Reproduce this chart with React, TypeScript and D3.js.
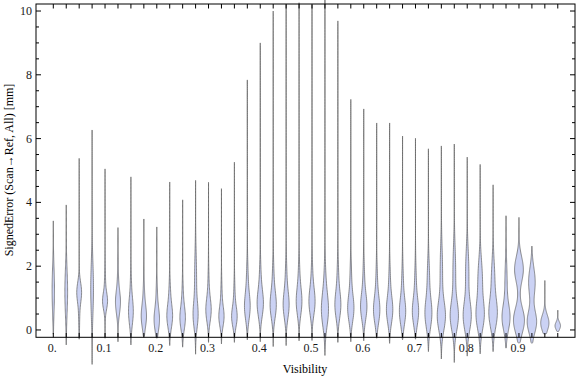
import React from 'react';
import * as d3 from 'd3';

// visibility bins (one violin each)
const visibility = [
  0, 0.025, 0.05, 0.075, 0.1, 0.125, 0.15, 0.175, 0.2, 0.225,
  0.25, 0.275, 0.3, 0.325, 0.35, 0.375, 0.4, 0.425, 0.45, 0.475,
  0.5, 0.525, 0.55, 0.575, 0.6, 0.625, 0.65, 0.675, 0.7, 0.725,
  0.75, 0.775, 0.8, 0.825, 0.85, 0.875, 0.9, 0.925, 0.95, 0.975,
];
// min / max of signed error per bin [mm]
const errMin = [
  -0.13, -0.47, -0.29, -1.08, -0.26, -0.37, -0.47, -0.21, -0.26, -0.49,
  -0.54, -0.76, -0.39, -0.44, -0.39, -0.31, -0.37, -0.52, -0.49, -0.34,
  -0.33, -0.8, -0.39, -0.37, -0.34, -0.26, -0.42, -0.31, -0.29, -0.68,
  -0.91, -1.02, -0.82, -0.75, -0.68, -0.57, -0.42, -0.42, -0.13, -0.05,
];
const errMax = [
  3.42, 3.92, 5.38, 6.27, 5.05, 3.21, 4.8, 3.48, 3.23, 4.64,
  4.08, 4.69, 4.63, 4.43, 5.26, 7.84, 9.0, 10.0, 10.2, 10.26,
  10.19, 11.0, 9.69, 7.23, 6.93, 6.49, 6.49, 6.08, 6.01, 5.68,
  5.77, 5.83, 5.42, 5.19, 4.55, 3.58, 3.53, 2.63, 1.55, 0.62,
];
// main density peak: location, spread, relative height
const peakA = [
  1.25, 1.2, 1.2, 1.3, 0.9, 0.85, 0.55, 0.4, 0.3, 0.4,
  0.35, 0.45, 0.6, 0.4, 0.4, 0.7, 0.8, 0.75, 0.75, 0.85,
  0.85, 0.6, 0.75, 0.65, 0.7, 0.6, 0.6, 0.55, 0.55, 0.5,
  0.42, 0.42, 0.42, 0.45, 0.5, 0.38, 0.3, 0.25, 0.22, 0.13,
];
const spreadA = [
  0.7, 0.7, 0.3, 0.8, 0.25, 0.35, 0.4, 0.35, 0.35, 0.35,
  0.35, 0.4, 0.35, 0.3, 0.3, 0.4, 0.4, 0.4, 0.4, 0.4,
  0.4, 0.5, 0.4, 0.4, 0.4, 0.4, 0.4, 0.4, 0.4, 0.45,
  0.45, 0.45, 0.45, 0.45, 0.45, 0.4, 0.4, 0.35, 0.25, 0.12,
];
const heightA = [
  0.22, 0.25, 0.38, 0.25, 0.38, 0.38, 0.38, 0.42, 0.45, 0.45,
  0.45, 0.4, 0.42, 0.42, 0.45, 0.46, 0.5, 0.5, 0.48, 0.44,
  0.48, 0.6, 0.48, 0.52, 0.52, 0.52, 0.52, 0.52, 0.52, 0.6,
  0.7, 0.7, 0.7, 0.7, 0.72, 0.7, 1.0, 0.85, 0.75, 0.5,
];
// secondary (upper) density component
const peakB = [
  0, 0, 0.6, 0, 1.3, 1.3, 1.2, 1.0, 1.0, 1.0,
  1.0, 1.6, 1.2, 1.0, 1.0, 1.5, 1.5, 1.5, 1.5, 1.5,
  1.5, 1.5, 1.5, 1.5, 1.5, 1.4, 1.4, 1.4, 1.4, 1.6,
  1.8, 1.8, 1.8, 1.6, 1.6, 1.5, 1.9, 1.5, 0, 0,
];
const spreadB = [
  1, 1, 0.6, 1, 0.6, 0.6, 0.6, 0.5, 0.5, 0.5,
  0.5, 0.8, 0.6, 0.5, 0.5, 0.6, 0.6, 0.6, 0.6, 0.6,
  0.6, 0.6, 0.6, 0.6, 0.6, 0.6, 0.6, 0.6, 0.6, 0.6,
  0.8, 0.8, 0.7, 0.6, 0.6, 0.6, 0.4, 0.45, 1, 1,
];
const heightB = [
  0, 0, 0.1, 0, 0.1, 0.1, 0.1, 0.12, 0.12, 0.15,
  0.12, 0.18, 0.12, 0.12, 0.12, 0.15, 0.15, 0.15, 0.15, 0.15,
  0.15, 0.15, 0.15, 0.15, 0.15, 0.15, 0.15, 0.15, 0.15, 0.2,
  0.22, 0.25, 0.3, 0.4, 0.3, 0.2, 0.8, 0.6, 0, 0,
];

const xTicks = [0, 0.1, 0.2, 0.3, 0.4, 0.5, 0.6, 0.7, 0.8, 0.9];
const xTickLabels = ['0.', '0.1', '0.2', '0.3', '0.4', '0.5', '0.6', '0.7', '0.8', '0.9'];
const yTicks = [0, 2, 4, 6, 8, 10];

const W = 576;
const H = 377;
const FONT = '"Liberation Serif", "Times New Roman", serif';

export default function App() {
  const x = d3.scaleLinear().domain([-0.03344, 1.0083]).range([36, 575]);
  const y = d3.scaleLinear().domain([-0.23, 10.22]).range([337.3, 4]);
  const halfMax = 5.5;

  const violins = visibility.map((v, i) => {
    const lo = errMin[i];
    const hi = errMax[i];
    const pts = d3.range(0, 121).map((k) => {
      const e = lo + ((hi - lo) * k) / 120;
      let w = 0;
      if (k > 0 && k < 120) {
        const za = (e - peakA[i]) / spreadA[i];
        const zb = (e - peakB[i]) / spreadB[i];
        w = heightA[i] * Math.exp(-0.5 * za * za) + heightB[i] * Math.exp(-0.5 * zb * zb);
      }
      return { e, w: w * halfMax };
    });
    const cx = x(v);
    const area = d3
      .area<{ e: number; w: number }>()
      .y((d) => y(d.e))
      .x0((d) => cx - d.w)
      .x1((d) => cx + d.w)
      .curve(d3.curveBasis);
    return { cx, path: area(pts) || '' };
  });

  const minorY = d3.range(0, 10.01, 0.5);

  return (
    <div style={{ position: 'fixed', left: 0, top: 0 }}>
      <svg width={W} height={H} style={{ display: 'block', background: '#fff' }}>
        {/* violins */}
        {violins.map((d, i) => (
          <path
            key={i}
            d={d.path}
            fill="#cbd2f4"
            stroke="#5a5a5a"
            strokeWidth={0.85}
            strokeOpacity={0.8}
          />
        ))}

        {/* frame */}
        <rect x={36} y={4} width={539} height={333.3} fill="none" stroke="#000" strokeWidth={1} />

        {/* x ticks (top and bottom, inward) */}
        {visibility.map((v, i) => (
          <g key={'xt' + i}>
            <line x1={x(v)} x2={x(v)} y1={4} y2={8.5} stroke="#000" strokeWidth={1} />
            <line x1={x(v)} x2={x(v)} y1={337.3} y2={333} stroke="#000" strokeWidth={1} />
          </g>
        ))}
        {xTicks.map((t, i) => (
          <text
            key={'xl' + i}
            x={x(t) - 1}
            y={352}
            textAnchor="middle"
            fontFamily={FONT}
            fontSize={12}
            fill="#1a1a1a"
          >
            {xTickLabels[i]}
          </text>
        ))}

        {/* y ticks (left and right, inward) */}
        {minorY.map((t, i) => {
          const major = Math.abs(t % 2) < 1e-6;
          const len = major ? 5 : 3;
          return (
            <g key={'yt' + i}>
              <line x1={36} x2={36 + len} y1={y(t)} y2={y(t)} stroke="#000" strokeWidth={1} />
              <line x1={575} x2={575 - len} y1={y(t)} y2={y(t)} stroke="#000" strokeWidth={1} />
            </g>
          );
        })}
        {yTicks.map((t) => (
          <text
            key={'yl' + t}
            x={32}
            y={y(t) + 4}
            textAnchor="end"
            fontFamily={FONT}
            fontSize={12}
            fill="#1a1a1a"
          >
            {t}
          </text>
        ))}

        {/* axis labels */}
        <text x={305} y={373} textAnchor="middle" fontFamily={FONT} fontSize={12} fill="#000">
          Visibility
        </text>
        <text
          transform="translate(13,170) rotate(-90)"
          textAnchor="middle"
          fontFamily={FONT}
          fontSize={12}
          fill="#000"
        >
          SignedError (Scan→Ref, All) [mm]
        </text>
      </svg>
    </div>
  );
}
